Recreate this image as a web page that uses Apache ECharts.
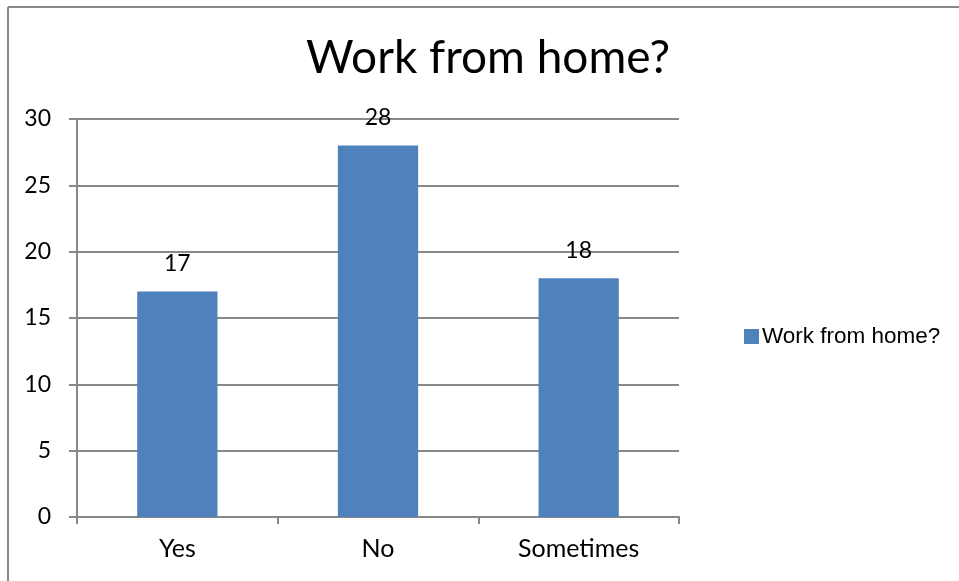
<!DOCTYPE html>
<html>
<head>
<meta charset="utf-8">
<script src="https://cdn.jsdelivr.net/npm/echarts@6/dist/echarts.min.js"></script>
<style>
html,body{margin:0;padding:0;background:#fff;}
#chart{width:959px;height:581px;}
</style>
</head>
<body>
<div id="chart"></div>
<script>
const titleText = "Work from home?";
const categories = ["Yes", "No", "Sometimes"];
const seriesName = "Work from home?";
const values = [17, 28, 18];
const yTicks = [0, 5, 10, 15, 20, 25, 30];

const chart = echarts.init(document.getElementById('chart'));
const font = 'Lato, "Open Sans", sans-serif';
chart.setOption({
  animation: false,
  backgroundColor: '#fff',
  title: {
    text: titleText,
    left: 488, top: 35, textAlign: 'center', padding: 0,
    textStyle: {fontFamily: font, fontSize: 46, fontWeight: 'normal', color: '#000'}
  },
  legend: {
    data: [seriesName],
    left: 744, top: 325, padding: 0,
    itemWidth: 15, itemHeight: 15, itemGap: 4,
    icon: 'rect',
    textStyle: {fontFamily: '"Liberation Sans", Arial, sans-serif', fontSize: 22.5, color: '#000', padding: [0,0,0,-2]}
  },
  graphic: [
    {type: 'line', shape: {x1: 8, y1: 7, x2: 8, y2: 581}, style: {stroke: '#888', lineWidth: 2}},
    {type: 'line', shape: {x1: 8, y1: 7, x2: 959, y2: 7}, style: {stroke: '#888', lineWidth: 2}}
  ],
  grid: {left: 77, right: 280, top: 119, bottom: 64},
  xAxis: {
    type: 'category',
    data: categories,
    axisLine: {lineStyle: {color: '#888', width: 2}},
    axisTick: {show: true, length: 7, lineStyle: {color: '#888', width: 2}},
    axisLabel: {fontFamily: font, fontSize: 25, color: '#000', margin: 19}
  },
  yAxis: {
    type: 'value',
    min: yTicks[0], max: yTicks[yTicks.length - 1], interval: 5,
    axisLine: {show: true, lineStyle: {color: '#888', width: 2}},
    axisTick: {show: true, length: 8, lineStyle: {color: '#888', width: 2}},
    axisLabel: {fontFamily: font, fontSize: 23, color: '#000', margin: 26},
    splitLine: {lineStyle: {color: '#888', width: 2}}
  },
  series: [{
    name: seriesName,
    type: 'bar',
    data: values,
    barWidth: '40%',
    itemStyle: {color: '#4F81BD'},
    label: {show: true, position: 'top', distance: 16, fontFamily: font, fontSize: 23, color: '#000'}
  }]
});
</script>
</body>
</html>
